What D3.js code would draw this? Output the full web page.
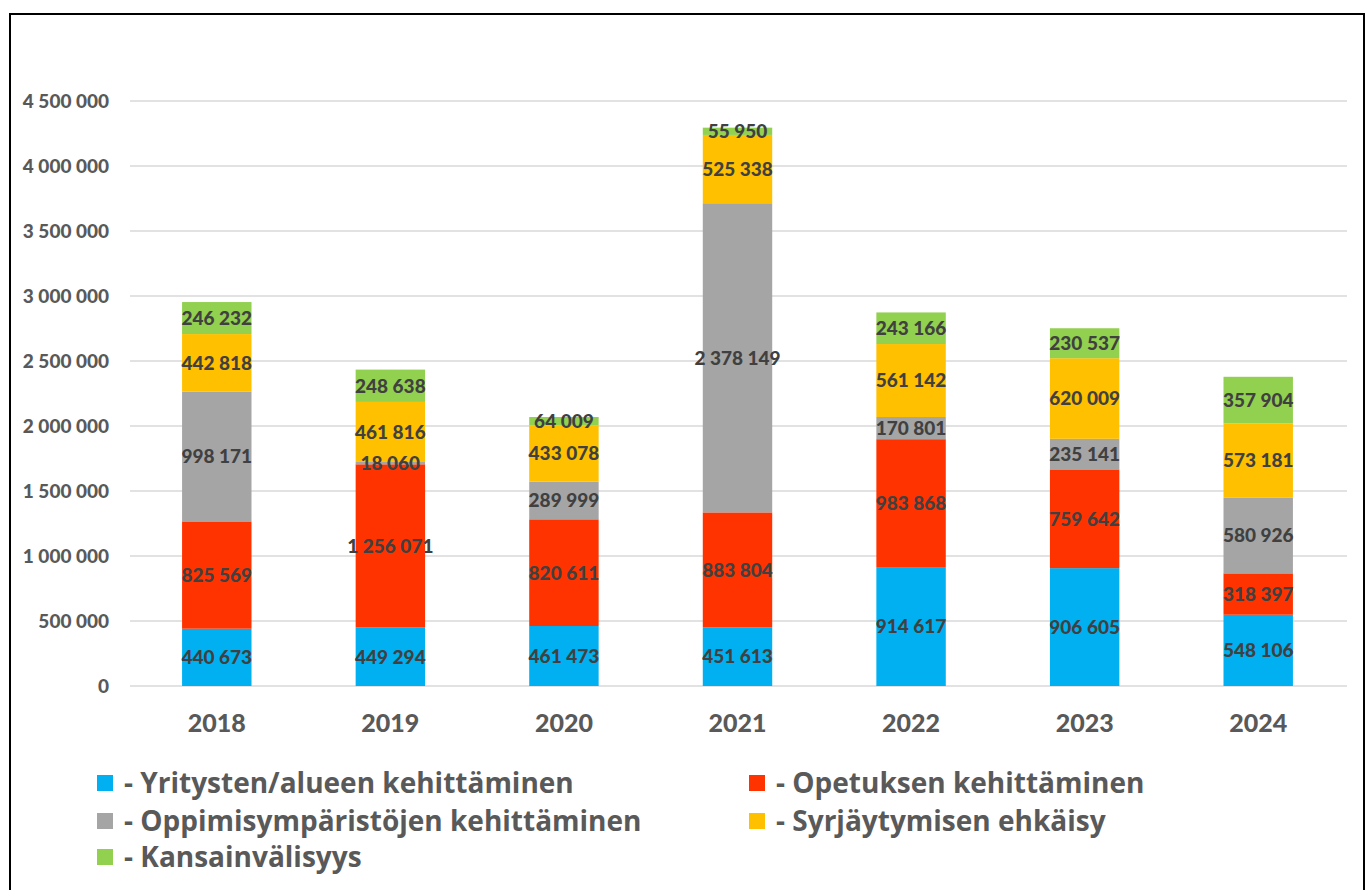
<!DOCTYPE html>
<html>
<head>
<meta charset="utf-8">
<script src="https://cdn.jsdelivr.net/npm/d3@7"></script>
<style>
  body { margin: 0; background: #fff; }
  svg { display: block; font-family: Lato, "Open Sans", sans-serif; font-weight: bold; }
</style>
</head>
<body>
<svg id="chart" width="1370" height="890"></svg>
<script>
// years on the x axis
const years = ["2018", "2019", "2020", "2021", "2022", "2023", "2024"];

// one array per series, bottom to top
const yritysten = [440673, 449294, 461473, 451613, 914617, 906605, 548106];
const opetuksen = [825569, 1256071, 820611, 883804, 983868, 759642, 318397];
const oppimis = [998171, 18060, 289999, 2378149, 170801, 235141, 580926];
const syrjaytymisen = [442818, 461816, 433078, 525338, 561142, 620009, 573181];
const kansainvalisyys = [246232, 248638, 64009, 55950, 243166, 230537, 357904];

const seriesNames = [
    "- Yritysten/alueen kehittäminen",
    "- Opetuksen kehittäminen",
    "- Oppimisympäristöjen kehittäminen",
    "- Syrjäytymisen ehkäisy",
    "- Kansainvälisyys"
];
const seriesColors = ["#00B0F0", "#FF3300", "#A5A5A5", "#FFC000", "#92D050"];
const yTicks = [0, 500000, 1000000, 1500000, 2000000, 2500000, 3000000, 3500000, 4000000, 4500000];

const keys = ["yritysten", "opetuksen", "oppimis", "syrjaytymisen", "kansainvalisyys"];
const seriesValues = [yritysten, opetuksen, oppimis, syrjaytymisen, kansainvalisyys];

let data = years.map((y, i) => {
    let row = { year: y };
    keys.forEach((k, j) => row[k] = seriesValues[j][i]);
    return row;
});

drawChart(data);

function drawChart(data) {
    let svg = d3.select("#chart");
    let fmt = d3.formatLocale({ decimal: ",", thousands: " ", grouping: [3], currency: ["", ""] }).format(",d");

    // outer frame
    svg.append("rect")
        .attr("x", 10).attr("y", 14)
        .attr("width", 1354).attr("height", 900)
        .attr("fill", "none")
        .attr("stroke", "#000")
        .attr("stroke-width", 2);

    let xScale = d3.scaleBand()
        .domain(years)
        .range([130, 1345])
        .paddingInner(0.6)
        .paddingOuter(0.3);

    let yScale = d3.scaleLinear()
        .domain([0, 4500000])
        .range([686, 101]);

    // gridlines
    svg.append("g")
        .selectAll("line")
        .data(yTicks)
        .enter()
        .append("line")
        .attr("x1", 130)
        .attr("x2", 1347)
        .attr("y1", d => yScale(d))
        .attr("y2", d => yScale(d))
        .attr("stroke", "#D9D9D9")
        .attr("stroke-width", 1.3);

    // y axis
    let yAxis = svg.append("g")
        .attr("transform", "translate(109,0)")
        .call(d3.axisLeft(yScale).tickValues(yTicks).tickFormat(fmt).tickSize(0).tickPadding(0));
    yAxis.select(".domain").remove();
    yAxis.selectAll("text")
        .attr("fill", "#595959")
        .style("font-size", "19px")
        .style("font-family", "Lato, sans-serif")
        .style("font-weight", "900");

    // x axis
    let xAxis = svg.append("g")
        .attr("transform", "translate(0,714)")
        .call(d3.axisBottom(xScale).tickSize(0).tickPadding(0));
    xAxis.select(".domain").remove();
    xAxis.selectAll("text")
        .attr("fill", "#595959")
        .attr("dy", "0.71em")
        .style("font-size", "25px")
        .style("font-family", "Lato, sans-serif")
        .style("font-weight", "900");

    let stacked = d3.stack().keys(keys)(data);

    let layers = svg.append("g")
        .selectAll("g.layer")
        .data(stacked)
        .enter()
        .append("g")
        .attr("class", "layer")
        .attr("fill", (d, i) => seriesColors[i]);

    layers.selectAll("rect")
        .data(d => d)
        .enter()
        .append("rect")
        .attr("x", d => xScale(d.data.year))
        .attr("y", d => yScale(d[1]))
        .attr("width", xScale.bandwidth())
        .attr("height", d => yScale(d[0]) - yScale(d[1]));

    // value labels
    let labels = svg.append("g");
    stacked.forEach(layer => {
        labels.selectAll(null)
            .data(layer)
            .enter()
            .append("text")
            .attr("x", d => xScale(d.data.year) + xScale.bandwidth() / 2)
            .attr("y", d => yScale((d[0] + d[1]) / 2))
            .attr("dy", "0.36em")
            .attr("text-anchor", "middle")
            .attr("fill", "#404040")
            .style("font-size", "19px")
            .style("font-weight", "900")
            .text(d => fmt(d[1] - d[0]));
    });

    // legend
    let legendPos = [
        [97, 783], [749, 783],
        [97, 821], [749, 821],
        [97, 857]
    ];
    let legend = svg.append("g")
        .selectAll("g")
        .data(seriesNames)
        .enter()
        .append("g")
        .attr("transform", (d, i) => `translate(${legendPos[i][0]},${legendPos[i][1]})`);

    legend.append("rect")
        .attr("x", 0).attr("y", -8)
        .attr("width", 16).attr("height", 16)
        .attr("fill", (d, i) => seriesColors[i]);

    legend.append("text")
        .attr("x", 27)
        .attr("dy", "0.35em")
        .attr("fill", "#595959")
        .style("font-family", "'Open Sans', sans-serif")
        .style("font-size", "28px")
        .text(d => d);
}
</script>
</body>
</html>
